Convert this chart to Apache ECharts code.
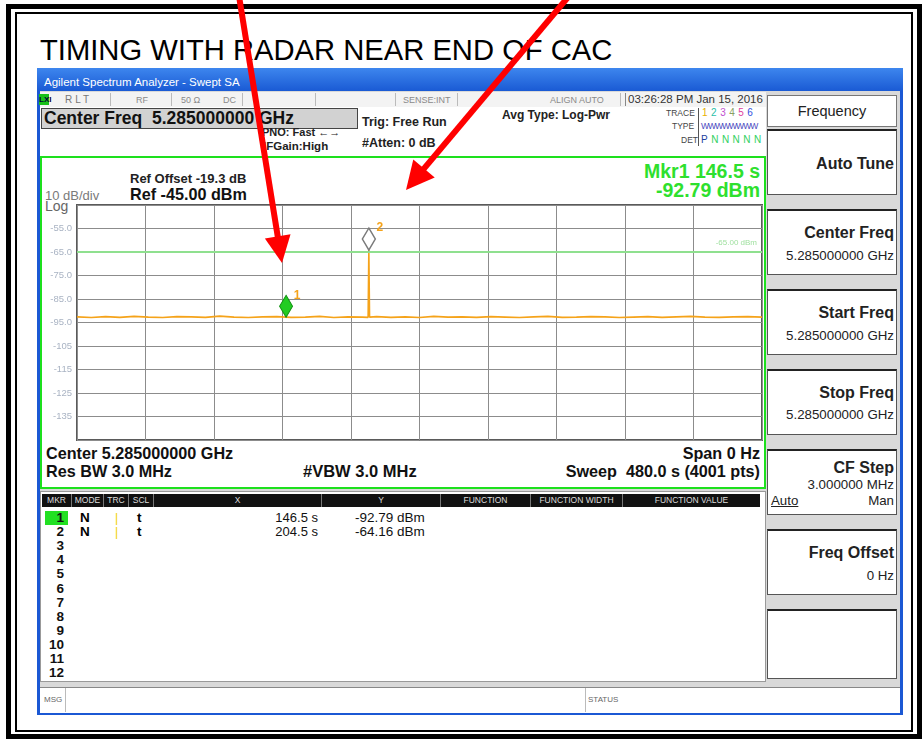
<!DOCTYPE html>
<html><head><meta charset="utf-8">
<script src="https://cdn.jsdelivr.net/npm/echarts@6/dist/echarts.min.js"></script>
<style>
html,body{margin:0;padding:0;}
body{width:922px;height:739px;position:relative;overflow:hidden;background:#fff;font-family:"Liberation Sans",Arial,sans-serif;}
.a{position:absolute;white-space:nowrap;}
.b{font-weight:bold;}
.sm{font-size:9px;color:#8a8a8a;}
.btn{position:absolute;left:767px;width:130px;height:66px;background:#fff;border:1px solid #555;border-top:2px solid #222;box-sizing:border-box;}
.btn .t{position:absolute;right:2px;font-weight:bold;font-size:16px;color:#222;}
.btn .v{position:absolute;right:2px;font-size:13.3px;color:#222;}
.hd{position:absolute;top:0;height:13px;line-height:13px;font-size:8.5px;color:#ddd;text-align:center;border-right:1px solid #777;box-sizing:border-box;}
.rn{position:absolute;left:44px;width:20px;text-align:right;font-weight:bold;font-size:13.5px;line-height:14px;color:#111;}
</style></head>
<body>
<div class="a" style="left:6px;top:4px;width:916px;height:735px;border:5px solid #000;box-sizing:border-box;"></div>
<div class="a" style="left:15px;top:12px;width:898px;height:720px;border:2px solid #000;box-sizing:border-box;"></div>
<div class="a" style="left:40px;top:36px;font-size:29.2px;line-height:29px;color:#000;">TIMING WITH RADAR NEAR END OF CAC</div>

<!-- instrument window -->
<div class="a" style="left:37px;top:68px;width:866px;height:647px;background:#1b58d4;"></div>
<div class="a" style="left:37px;top:68px;width:866px;height:23px;background:linear-gradient(#3d86ee,#1a5ad4);"></div>
<div class="a" style="left:44px;top:76px;font-size:11.5px;color:#fff;">Agilent Spectrum Analyzer - Swept SA</div>
<div class="a" style="left:40px;top:91px;width:860px;height:621px;background:#d9d9d9;"></div>

<!-- status row -->
<div class="a" style="left:40px;top:92px;width:726px;height:15px;background:#f3f3f3;border-bottom:1px solid #bbb;"></div>
<div class="a" style="left:39px;top:94px;width:10px;height:11px;background:#18c018;font-size:8px;line-height:11px;color:#003;text-align:center;font-weight:bold;">LXI</div>
<div class="a sm" style="left:65px;top:94px;font-size:10px;letter-spacing:3px;color:#777;">RLT</div>
<div class="a sm" style="left:136px;top:95px;">RF</div>
<div class="a sm" style="left:181px;top:95px;">50 Ω</div>
<div class="a sm" style="left:223px;top:95px;">DC</div>
<div class="a sm" style="left:403px;top:95px;">SENSE:INT</div>
<div class="a sm" style="left:550px;top:95px;">ALIGN AUTO</div>
<div class="a" style="left:628px;top:93px;font-size:11.5px;color:#333;">03:26:28 PM Jan 15, 2016</div>
<div class="a" style="left:110px;top:93px;width:1px;height:13px;background:#bbb;"></div>
<div class="a" style="left:171px;top:93px;width:1px;height:13px;background:#bbb;"></div>
<div class="a" style="left:242px;top:93px;width:1px;height:13px;background:#bbb;"></div>
<div class="a" style="left:315px;top:93px;width:1px;height:13px;background:#bbb;"></div>
<div class="a" style="left:395px;top:93px;width:1px;height:13px;background:#bbb;"></div>
<div class="a" style="left:457px;top:93px;width:1px;height:13px;background:#bbb;"></div>
<div class="a" style="left:620px;top:93px;width:1px;height:13px;background:#bbb;"></div>
<div class="a" style="left:625px;top:93px;width:1px;height:13px;background:#888;"></div>

<!-- settings area -->
<div class="a" style="left:40px;top:107px;width:726px;height:49px;background:#fff;"></div>
<div class="a" style="left:41px;top:108px;width:317px;height:21px;background:#d2d2d2;border:1px solid #444;box-sizing:border-box;"></div>
<div class="a b" style="left:44px;top:108px;font-size:17.5px;color:#111;">Center Freq&nbsp; 5.285000000 GHz</div>
<div class="a b" style="left:262px;top:126px;font-size:11px;color:#222;">PNO: Fast ←→</div>
<div class="a b" style="left:263px;top:140px;font-size:11.5px;color:#222;">IFGain:High</div>
<div class="a b" style="left:362px;top:115px;font-size:12.5px;color:#222;">Trig: Free Run</div>
<div class="a b" style="left:362px;top:136px;font-size:12.5px;color:#222;">#Atten: 0 dB</div>
<div class="a b" style="left:502px;top:108px;font-size:12px;color:#222;">Avg Type: Log-Pwr</div>
<div class="a" style="left:666px;top:108px;font-size:8.5px;color:#444;">TRACE</div>
<div class="a" style="left:672px;top:121px;font-size:8.5px;color:#444;">TYPE</div>
<div class="a" style="left:681px;top:135px;font-size:8.5px;color:#444;">DET</div>
<div class="a" style="left:698px;top:108px;width:1px;height:38px;background:#555;"></div>
<div class="a" style="left:702px;top:107px;font-size:10px;letter-spacing:3.5px;"><span style="color:#e8b000">1</span><span style="color:#2cc0a8">2</span><span style="color:#c050d0">3</span><span style="color:#88a060">4</span><span style="color:#e040a0">5</span><span style="color:#3050e0">6</span></div>
<div class="a" style="left:701px;top:121px;font-size:8.5px;color:#4a48c0;letter-spacing:-1px;">WWWWWWWW</div>
<div class="a" style="left:701px;top:134px;font-size:10px;letter-spacing:3.5px;"><span style="color:#2040a0">P</span><span style="color:#30d060">NNNNN</span></div>

<!-- graph frame -->
<div class="a" style="left:40px;top:156px;width:726px;height:333px;background:#fff;border:2px solid #1de01d;box-sizing:border-box;"></div>
<div class="a b" style="left:130px;top:171px;font-size:13px;color:#222;">Ref Offset -19.3 dB</div>
<div class="a b" style="left:130px;top:185px;font-size:16.2px;color:#111;">Ref -45.00 dBm</div>
<div class="a" style="left:45px;top:188px;font-size:13px;color:#7a7a7a;">10 dB/div</div>
<div class="a" style="left:45px;top:198px;font-size:14px;color:#666;">Log</div>
<div class="a b" id="mkrA" style="right:162px;top:160px;font-size:19.5px;color:#2ee02e;"></div>
<div class="a b" id="mkrB" style="right:162px;top:179px;font-size:19.5px;color:#2ee02e;"></div>
<div class="a b" style="left:46px;top:444px;font-size:16.2px;color:#111;">Center 5.285000000 GHz</div>
<div class="a b" style="right:162px;top:444px;font-size:16.2px;color:#111;">Span 0 Hz</div>
<div class="a b" style="left:46px;top:462px;font-size:16.2px;color:#111;">Res BW 3.0 MHz</div>
<div class="a b" style="left:303px;top:462px;font-size:16.5px;color:#111;">#VBW 3.0 MHz</div>
<div class="a b" style="right:162px;top:462px;font-size:16.2px;color:#111;">Sweep&nbsp; 480.0 s (4001 pts)</div>

<!-- marker table -->
<div class="a" style="left:40px;top:491px;width:726px;height:191px;background:#fff;border:1px solid #999;box-sizing:border-box;"></div>
<div class="a" style="left:42px;top:494px;width:718px;height:13px;background:#111;">
  <div class="hd" style="left:0;width:30px;">MKR</div>
  <div class="hd" style="left:30px;width:32px;">MODE</div>
  <div class="hd" style="left:62px;width:25px;">TRC</div>
  <div class="hd" style="left:87px;width:25px;">SCL</div>
  <div class="hd" style="left:112px;width:168px;">X</div>
  <div class="hd" style="left:280px;width:119px;">Y</div>
  <div class="hd" style="left:399px;width:90px;">FUNCTION</div>
  <div class="hd" style="left:489px;width:92px;">FUNCTION WIDTH</div>
  <div class="hd" style="left:581px;width:137px;border-right:none;">FUNCTION VALUE</div>
</div>
<div class="a" style="left:45px;top:511px;width:23px;height:14px;background:#22e022;"></div>
<div id="rows"></div>

<!-- msg bar -->
<div class="a" style="left:40px;top:687px;width:860px;height:25px;background:#fff;border-top:1px solid #888;"></div>
<div class="a" style="left:44px;top:695px;font-size:8px;color:#666;">MSG</div>
<div class="a" style="left:65px;top:688px;width:1px;height:24px;background:#bbb;"></div>
<div class="a" style="left:585px;top:688px;width:1px;height:24px;background:#bbb;"></div>
<div class="a" style="left:588px;top:695px;font-size:8px;color:#666;">STATUS</div>

<!-- right panel -->
<div class="a" style="left:767px;top:95px;width:130px;height:32px;background:#fff;border:1px solid #777;box-sizing:border-box;font-size:14.5px;color:#222;text-align:center;line-height:30px;">Frequency</div>
<div class="btn" style="top:129px;"><div class="t" style="top:24px;">Auto Tune</div></div>
<div class="btn" style="top:209px;"><div class="t" style="top:13px;">Center Freq</div><div class="v" style="top:37px;">5.285000000 GHz</div></div>
<div class="btn" style="top:289px;"><div class="t" style="top:13px;">Start Freq</div><div class="v" style="top:37px;">5.285000000 GHz</div></div>
<div class="btn" style="top:369px;"><div class="t" style="top:13px;">Stop Freq</div><div class="v" style="top:36px;">5.285000000 GHz</div></div>
<div class="btn" style="top:449px;"><div class="t" style="top:8px;">CF Step</div><div class="v" style="top:26px;">3.000000 MHz</div><div class="v" style="top:42px;">Man</div><div class="v" style="top:42px;left:3px;right:auto;text-decoration:underline;">Auto</div></div>
<div class="btn" style="top:529px;"><div class="t" style="top:13px;">Freq Offset</div><div class="v" style="top:37px;">0 Hz</div></div>
<div class="btn" style="top:609px;height:70px;"></div>

<div id="chart" class="a" style="left:0;top:0;width:922px;height:739px;z-index:10;"></div>
<script>
// ---- data ----
var times = [0,10,20,30,40,50,60,70,80,90,100,110,120,130,140,150,160,170,180,190,200,204,204.5,205,210,220,230,240,250,260,270,280,290,300,310,320,330,340,350,360,370,380,390,400,410,420,430,440,450,460,470,480];
var levels = [-92.6,-92.9,-92.5,-92.8,-92.4,-92.7,-92.9,-92.5,-92.6,-92.8,-92.3,-92.7,-92.9,-92.6,-92.5,-92.8,-92.7,-92.4,-92.9,-92.6,-92.7,-92.8,-64.16,-92.7,-92.5,-92.8,-92.6,-92.9,-92.4,-92.7,-92.6,-92.8,-92.5,-92.7,-92.9,-92.6,-92.4,-92.8,-92.7,-92.5,-92.6,-92.9,-92.7,-92.5,-92.8,-92.6,-92.4,-92.7,-92.8,-92.6,-92.5,-92.7];
var markerNames = ['1','2'];
var markerTimes = [146.5, 204.5];
var markerLevels = [-92.79, -64.16];
var displayLine = -65;
var displayLineLabel = '-65.00 dBm';
var rowNumbers = ['1','2','3','4','5','6','7','8','9','10','11','12'];

// ---- text readouts ----
document.getElementById('mkrA').textContent = 'Mkr1 ' + markerTimes[0].toFixed(1) + ' s';
document.getElementById('mkrB').textContent = markerLevels[0].toFixed(2) + ' dBm';
var rowsHtml = '';
rowNumbers.forEach(function(n, i){
  var top = 511 + i*14.1;
  rowsHtml += '<div class="rn a" style="top:'+top+'px">'+n+'</div>';
  if (i < markerTimes.length) {
    rowsHtml += '<div class="a b" style="left:80px;top:'+top+'px;font-size:13.5px;line-height:14px;">N</div>';
    rowsHtml += '<div class="a" style="left:115px;top:'+top+'px;font-size:12px;line-height:14px;color:#f0d000;">|</div>';
    rowsHtml += '<div class="a b" style="left:137px;top:'+top+'px;font-size:13.5px;line-height:14px;">t</div>';
    rowsHtml += '<div class="a" style="right:604px;top:'+top+'px;font-size:13px;line-height:14px;color:#111;">'+markerTimes[i].toFixed(1)+' s</div>';
    rowsHtml += '<div class="a" style="left:355px;top:'+top+'px;font-size:13.5px;line-height:14px;color:#111;">'+markerLevels[i].toFixed(2)+' dBm</div>';
  }
});
document.getElementById('rows').innerHTML = rowsHtml;

// ---- chart ----
var chart = echarts.init(document.getElementById('chart'), null, {renderer:'canvas'});
var traceData = times.map(function(t,i){ return [t, levels[i]]; });

function arrow(x0,y0,x1,y1,headLen,headW){
  var dx=x1-x0, dy=y1-y0, L=Math.sqrt(dx*dx+dy*dy), ux=dx/L, uy=dy/L;
  var bx=x1-ux*headLen, by=y1-uy*headLen, px=-uy*headW/2, py=ux*headW/2;
  return [
    {type:'line', z:100, shape:{x1:x0,y1:y0,x2:bx+ux*2,y2:by+uy*2}, style:{stroke:'#ff0000', lineWidth:6}},
    {type:'polygon', z:100, shape:{points:[[x1,y1],[bx+px,by+py],[bx-px,by-py]]}, style:{fill:'#ff0000'}}
  ];
}

var option = {
  backgroundColor:'transparent',
  animation:false,
  grid:{left:77, top:205, width:685, height:235, show:true, borderColor:'#5a5a5a', borderWidth:2, backgroundColor:'transparent'},
  xAxis:{type:'value', min:0, max:480, interval:48,
    axisLabel:{show:false}, axisTick:{show:false}, axisLine:{show:false},
    splitLine:{show:true, lineStyle:{color:'#8c8c8c', width:1}}},
  yAxis:{type:'value', min:-145, max:-45, interval:10,
    axisTick:{show:false}, axisLine:{show:false},
    axisLabel:{color:'#a9b3c3', fontSize:9.5, margin:5, fontFamily:'Liberation Sans',
      formatter:function(v){ if (Math.abs(v+45)<0.01 || Math.abs(v+145)<0.01) return ''; return Math.abs(v)>=100 ? String(Math.round(v)) : v.toFixed(1); }},
    splitLine:{show:true, lineStyle:{color:'#8c8c8c', width:1}}},
  series:[{
    type:'line', data:traceData, symbol:'none', silent:true,
    lineStyle:{color:'#f5a31a', width:1.6},
    markLine:{silent:true, symbol:'none',
      lineStyle:{color:'#8fe08f', width:2, type:'solid'},
      label:{show:true, position:'insideEndTop', formatter:displayLineLabel, color:'#9fe09f', fontSize:8},
      data:[{yAxis:displayLine}]},
    markPoint:{silent:true,
      data: markerTimes.map(function(t,i){
        return {coord:[t, markerLevels[i]], name:markerNames[i],
          symbol:'diamond', symbolSize:[13,22], symbolOffset:[0,-11],
          itemStyle: i===0 ? {color:'#22cc22', borderColor:'#139013', borderWidth:1} : {color:'#ffffff', borderColor:'#7a7a7a', borderWidth:1.5},
          label:{show:true, formatter:markerNames[i], color:'#f5a31a', fontSize:12, fontWeight:'bold', position:'inside', offset:[11,-11]}};
      })}
  }],
  graphic: [].concat(arrow(239,-4,282,263,27,26), arrow(569,-4,406,190,28,28))
};
chart.setOption(option);
</script>
</body></html>
